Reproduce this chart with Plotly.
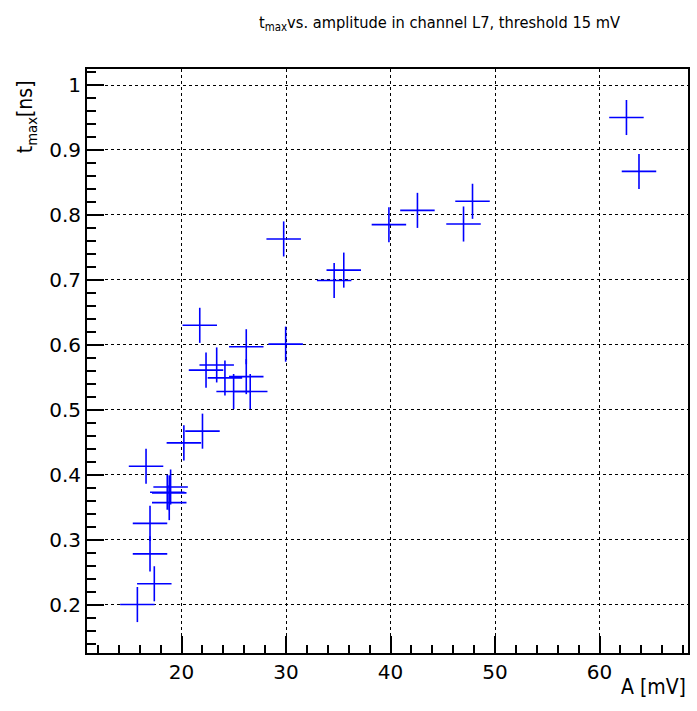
import plotly.graph_objects as go

# amplitude A [mV]
amp = [15.77, 17.39, 16.98, 16.98, 16.60, 18.95, 18.63, 18.82, 18.82, 20.22,
       22.00, 29.77, 21.74, 29.96, 23.36, 22.34, 24.15, 26.19, 26.19, 24.98,
       26.57, 39.84, 42.57, 46.98, 47.84, 35.52, 34.60, 62.57, 63.77]
# t_max [ns]
tmax = [0.200, 0.232, 0.278, 0.325, 0.413, 0.381, 0.373, 0.372, 0.357, 0.449,
        0.467, 0.763, 0.630, 0.601, 0.569, 0.561, 0.549, 0.551, 0.597, 0.528,
        0.528, 0.785, 0.807, 0.786, 0.821, 0.715, 0.699, 0.950, 0.867]
amp_err = [1.65] * len(amp)
tmax_err = [0.027] * len(tmax)

x_range = [10.95, 68.46]
y_range = [0.1254, 1.0247]

FONT = "DejaVu Sans"
CFONT = "DejaVu Sans Condensed, DejaVu Sans"

fig = go.Figure()
fig.add_trace(go.Scatter(
    x=amp, y=tmax, mode="markers",
    marker=dict(size=1, color="rgba(0,0,255,0)"),
    error_x=dict(type="data", array=amp_err, color="#0000ff", thickness=1.6, width=0),
    error_y=dict(type="data", array=tmax_err, color="#0000ff", thickness=1.6, width=0),
    showlegend=False, hoverinfo="skip",
))

axis_common = dict(
    showline=True, linecolor="black", linewidth=2, mirror=True,
    ticks="inside", tickcolor="black", tickwidth=1.5,
    showgrid=True, gridcolor="black", griddash="dot", gridwidth=1,
    zeroline=False,
    tickfont=dict(family=FONT, size=20, color="black"),
)

fig.update_xaxes(range=x_range, dtick=10, tick0=0, ticklen=17,
                 minor=dict(dtick=2, ticks="inside", ticklen=8, tickcolor="black", showgrid=False),
                 **axis_common)
fig.update_yaxes(range=y_range, dtick=0.1, tick0=0, ticklen=17,
                 minor=dict(dtick=0.02, ticks="inside", ticklen=9, tickcolor="black", showgrid=False),
                 **axis_common)

fig.update_layout(
    width=697, height=711,
    margin=dict(l=87, r=7, t=69, b=58, pad=0),
    paper_bgcolor="white", plot_bgcolor="white",
    font=dict(family=FONT, color="black"),
    annotations=[
        dict(text="t<sub>max</sub>vs. amplitude in channel L7, threshold 15 mV",
             xref="paper", yref="paper", x=(258 - 87) / 603, y=1 + (69 - 24) / 584,
             xanchor="left", yanchor="middle", showarrow=False,
             font=dict(family=CFONT, size=16.3)),
        dict(text="A [mV]", xref="paper", yref="paper", x=1, y=-(687 - 653) / 584,
             xanchor="right", yanchor="middle", showarrow=False,
             font=dict(family=CFONT, size=21)),
        dict(text="t<sub>max</sub>[ns]", xref="paper", yref="paper",
             x=-(87 - 26) / 603, y=1 - (117 - 69) / 584, textangle=-90,
             xanchor="center", yanchor="middle", showarrow=False,
             font=dict(family=CFONT, size=21)),
    ],
)

fig.write_html("out.html")
